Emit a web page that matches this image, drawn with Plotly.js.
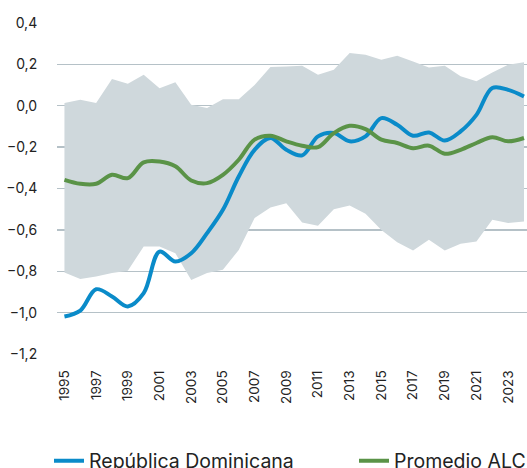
<!DOCTYPE html>
<html>
<head>
<meta charset="utf-8">
<script src="https://cdn.plot.ly/plotly-3.0.1.min.js"></script>
<style>html,body{margin:0;padding:0;background:#fff;}#chart{width:527px;height:468px;}</style>
</head>
<body>
<div id="chart"></div>
<script>
const years = [1995,1996,1997,1998,1999,2000,2001,2002,2003,2004,2005,2006,2007,2008,2009,2010,2011,2012,2013,2014,2015,2016,2017,2018,2019,2020,2021,2022,2023,2024];
const rangoMax = [0.013,0.029,0.013,0.129,0.106,0.150,0.085,0.113,0.005,-0.011,0.032,0.032,0.100,0.187,0.190,0.193,0.150,0.174,0.255,0.247,0.222,0.242,0.214,0.185,0.193,0.142,0.118,0.161,0.198,0.210];
const rangoMin = [-0.806,-0.838,-0.825,-0.809,-0.798,-0.680,-0.680,-0.713,-0.842,-0.809,-0.793,-0.697,-0.543,-0.492,-0.471,-0.564,-0.580,-0.500,-0.482,-0.522,-0.600,-0.660,-0.700,-0.648,-0.700,-0.667,-0.656,-0.551,-0.567,-0.560];
const republicaDominicana = [-1.019,-0.990,-0.887,-0.922,-0.970,-0.906,-0.705,-0.753,-0.713,-0.616,-0.503,-0.342,-0.213,-0.156,-0.213,-0.240,-0.148,-0.132,-0.172,-0.148,-0.060,-0.092,-0.145,-0.129,-0.168,-0.124,-0.044,0.086,0.077,0.045];
const promedioALC = [-0.358,-0.377,-0.377,-0.334,-0.350,-0.274,-0.270,-0.293,-0.361,-0.374,-0.334,-0.261,-0.164,-0.145,-0.172,-0.193,-0.200,-0.132,-0.097,-0.113,-0.164,-0.180,-0.205,-0.193,-0.232,-0.213,-0.180,-0.152,-0.172,-0.156];
const yTicks = [-1.2,-1.0,-0.8,-0.6,-0.4,-0.2,0.0,0.2,0.4];
const xTicks = [1995,1997,1999,2001,2003,2005,2007,2009,2011,2013,2015,2017,2019,2021,2023];

const font = 'Inter, "Noto Sans", sans-serif';
const data = [
  {x: years, y: rangoMin, type:'scatter', mode:'lines', line:{width:0, color:'#cfd8dc'}, showlegend:false, hoverinfo:'skip'},
  {x: years, y: rangoMax, type:'scatter', mode:'lines', line:{width:0, color:'#cfd8dc'}, fill:'tonexty', fillcolor:'#cfd8dc', showlegend:false, hoverinfo:'skip'},
  {x: years, y: republicaDominicana, name:'República Dominicana', legend:'legend', type:'scatter', mode:'lines', line:{color:'#0a8bc9', width:4, shape:'spline', smoothing:1}},
  {x: years, y: promedioALC, name:'Promedio ALC', legend:'legend2', type:'scatter', mode:'lines', line:{color:'#5a9347', width:4, shape:'spline', smoothing:1}}
];
const legendCommon = {orientation:'h', xref:'container', yref:'container', xanchor:'left', y:0.015, yanchor:'middle', font:{size:19.5, color:'#222'}, bgcolor:'rgba(0,0,0,0)'};
const layout = {
  width:527, height:468,
  margin:{l:57, r:0, t:23, b:114},
  paper_bgcolor:'#fff', plot_bgcolor:'#fff',
  separators:',.',
  font:{family:font, color:'#222', size:14},
  xaxis:{range:[1994.53,2024.19], tickmode:'array', tickvals:xTicks, tickangle:-90, showgrid:false, zeroline:false, showline:false, ticks:'outside', ticklen:10, tickcolor:'rgba(0,0,0,0)', tickfont:{size:13.5}},
  yaxis:{range:[-1.2,0.4], tickmode:'array', tickvals:yTicks, tickformat:'.1f', showgrid:true, gridcolor:'#b5c1c7', gridwidth:1.3, zeroline:false, showline:false, ticks:'outside', ticklen:16, tickcolor:'rgba(0,0,0,0)', tickfont:{size:14}},
  showlegend:true,
  legend:Object.assign({}, legendCommon, {x:49/527}),
  legend2:Object.assign({}, legendCommon, {x:354/527})
};
Plotly.newPlot('chart', data, layout, {displayModeBar:false, staticPlot:true});
</script>
</body>
</html>
